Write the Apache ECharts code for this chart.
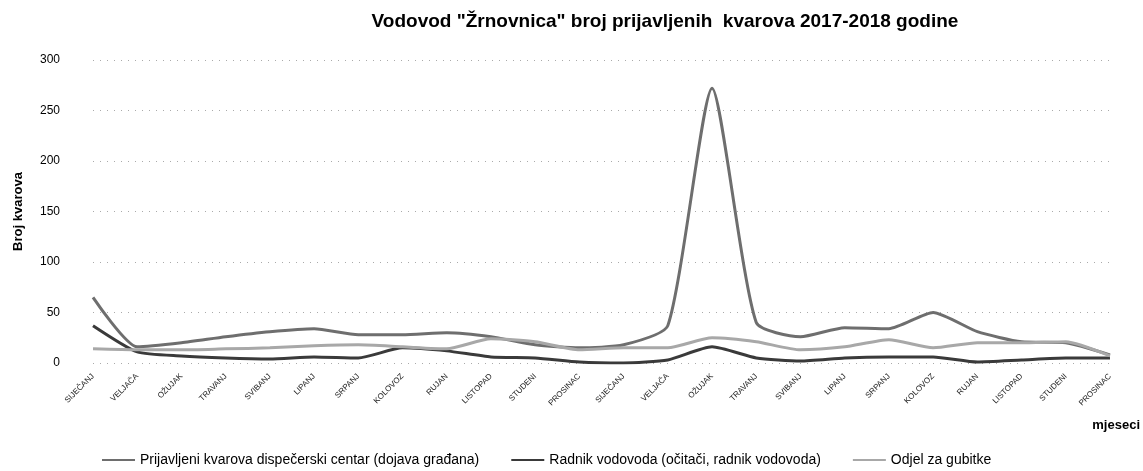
<!DOCTYPE html>
<html>
<head>
    <meta charset="utf-8" />
    <title>Vodovod Žrnovnica</title>
    <script src="https://cdn.jsdelivr.net/npm/echarts@6.0.0/dist/echarts.min.js"></script>
    <style>
        body { margin: 0; background: #fff; }
        #main { width: 1143px; height: 471px; }
    </style>
</head>
<body>
<div id="main"></div>
<script type="text/javascript">
    // mjeseci 2017 + 2018
    const mjeseci = ['SIJEČANJ', 'VELJAČA', 'OŽUJAK', 'TRAVANJ', 'SVIBANJ', 'LIPANJ',
        'SRPANJ', 'KOLOVOZ', 'RUJAN', 'LISTOPAD', 'STUDENI', 'PROSINAC'];
    const kategorije = mjeseci.concat(mjeseci);

    const dispecerskiCentar = [65, 16, 20, 26, 31, 34, 28, 28, 30, 26, 18, 15,
        18, 37, 272, 40, 26, 35, 34, 50, 31, 21, 20, 8];
    const radnikVodovoda = [37, 11, 7, 5, 4, 6, 5, 15, 12, 6, 5, 1,
        0, 3, 16, 5, 2, 5, 6, 6, 1, 3, 5, 5];
    const odjelGubitke = [14, 13, 13, 14, 15, 17, 18, 16, 14, 24, 21, 13,
        15, 15, 25, 21, 13, 16, 23, 15, 20, 20, 21, 7];

    const yTicks = [0, 50, 100, 150, 200, 250, 300];

    const nazivi = [
        'Prijavljeni kvarova dispečerski centar (dojava građana)',
        'Radnik vodovoda (očitači, radnik vodovoda)',
        'Odjel za gubitke'
    ];

    const font = 'Liberation Sans, Arial, sans-serif';

    let myChart = echarts.init(document.getElementById('main'));
    let option = {
        backgroundColor: '#fff',
        animation: false,
        title: {
            text: 'Vodovod "Žrnovnica" broj prijavljenih  kvarova 2017-2018 godine',
            left: 660,
            textAlign: 'center',
            top: 7,
            textStyle: {fontFamily: font, fontSize: 19, fontWeight: 'bold', color: '#000'}
        },
        legend: {
            left: 97,
            top: 448,
            itemWidth: 33,
            itemHeight: 10,
            itemGap: 32,
            icon: 'path://M0,4 L33,4 L33,6 L0,6 Z',
            textStyle: {fontFamily: font, fontSize: 14, color: '#000'},
            data: nazivi
        },
        grid: {left: 93, right: 33, top: 60, bottom: 108, containLabel: false},
        xAxis: {
            type: 'category',
            boundaryGap: false,
            data: kategorije,
            name: 'mjeseci',
            nameLocation: 'end',
            nameGap: 30,
            nameTextStyle: {
                fontFamily: font, fontSize: 13, fontWeight: 'bold', color: '#000',
                align: 'right', verticalAlign: 'top', padding: [56, 0, 0, 0]
            },
            axisLine: {show: false},
            axisTick: {show: false},
            axisLabel: {
                interval: 0,
                rotate: 45,
                margin: 12,
                fontFamily: font,
                fontSize: 8,
                color: '#222'
            }
        },
        yAxis: {
            type: 'value',
            min: yTicks[0],
            max: yTicks[yTicks.length - 1],
            interval: 50,
            name: 'Broj kvarova',
            nameLocation: 'middle',
            nameGap: 68,
            nameTextStyle: {fontFamily: font, fontSize: 13, fontWeight: 'bold', color: '#000'},
            axisLine: {show: false},
            axisTick: {show: false},
            axisLabel: {margin: 33, fontFamily: font, fontSize: 12, color: '#000'},
            splitLine: {lineStyle: {color: '#aaa', width: 1, type: [1, 6]}}
        },
        series: [
            {
                name: nazivi[0],
                type: 'line',
                data: dispecerskiCentar,
                smooth: 0.2,
                symbol: 'none',
                color: '#6e6e6e',
                lineStyle: {width: 3, color: '#6e6e6e'}
            },
            {
                name: nazivi[1],
                type: 'line',
                data: radnikVodovoda,
                smooth: 0.2,
                symbol: 'none',
                color: '#3a3a3a',
                lineStyle: {width: 3, color: '#3a3a3a'}
            },
            {
                name: nazivi[2],
                type: 'line',
                data: odjelGubitke,
                smooth: 0.2,
                symbol: 'none',
                color: '#a8a8a8',
                lineStyle: {width: 3, color: '#a8a8a8'}
            }
        ]
    };
    myChart.setOption(option);
</script>
</body>
</html>
